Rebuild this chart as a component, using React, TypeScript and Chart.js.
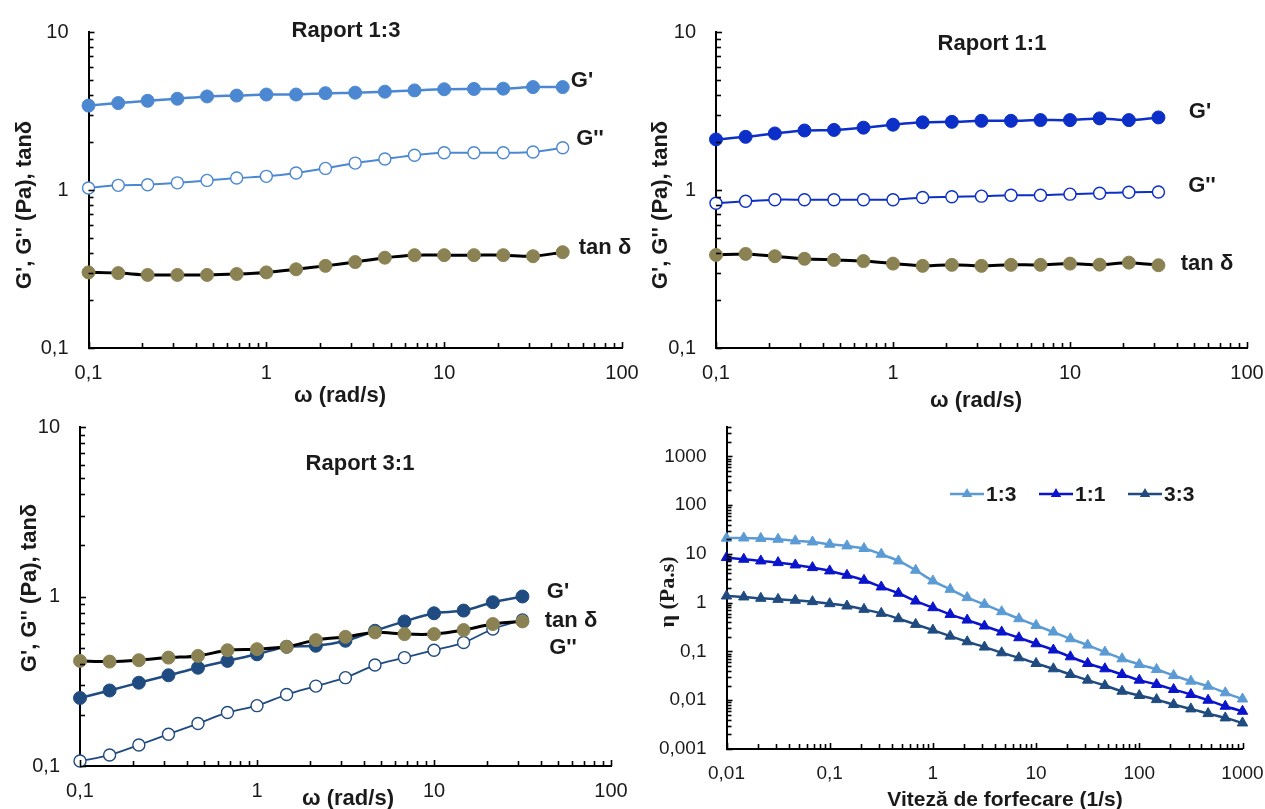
import React, { useEffect, useRef } from "react";
import { Chart, registerables } from "chart.js";

Chart.register(...registerables);

// ---------- data ----------
const omega17 = [0.1, 0.147, 0.215, 0.316, 0.464, 0.681, 1, 1.47, 2.15, 3.16, 4.64, 6.81, 10, 14.7, 21.5, 31.6, 46.4];
const omega16 = [0.1, 0.147, 0.215, 0.316, 0.464, 0.681, 1, 1.47, 2.15, 3.16, 4.64, 6.81, 10, 14.7, 21.5, 31.6];

// Raport 1:3
const gPrime13 = [3.42, 3.55, 3.67, 3.78, 3.91, 3.96, 4.02, 4.02, 4.1, 4.13, 4.19, 4.27, 4.34, 4.36, 4.38, 4.48, 4.48];
const gDouble13 = [1.03, 1.07, 1.08, 1.11, 1.15, 1.19, 1.22, 1.28, 1.37, 1.48, 1.57, 1.66, 1.72, 1.72, 1.72, 1.74, 1.85];
const tanDelta13 = [0.301, 0.298, 0.29, 0.29, 0.29, 0.294, 0.301, 0.315, 0.331, 0.35, 0.373, 0.387, 0.387, 0.387, 0.387, 0.381, 0.404];

// Raport 1:1
const gPrime11 = [2.09, 2.17, 2.28, 2.38, 2.4, 2.48, 2.59, 2.68, 2.7, 2.74, 2.74, 2.77, 2.77, 2.84, 2.77, 2.88];
const gDouble11 = [0.824, 0.848, 0.868, 0.868, 0.868, 0.868, 0.868, 0.897, 0.906, 0.914, 0.927, 0.927, 0.941, 0.954, 0.968, 0.972];
const tanDelta11 = [0.388, 0.394, 0.381, 0.367, 0.361, 0.355, 0.342, 0.331, 0.336, 0.331, 0.336, 0.336, 0.342, 0.337, 0.347, 0.334];

// Raport 3:1
const gPrime31 = [0.252, 0.279, 0.31, 0.343, 0.38, 0.417, 0.456, 0.505, 0.512, 0.548, 0.628, 0.713, 0.796, 0.826, 0.925, 1.0];
const gDouble31 = [0.107, 0.116, 0.133, 0.154, 0.178, 0.207, 0.227, 0.264, 0.296, 0.332, 0.394, 0.436, 0.482, 0.535, 0.643, 0.727];
const tanDelta31 = [0.417, 0.413, 0.421, 0.436, 0.446, 0.482, 0.489, 0.505, 0.553, 0.578, 0.614, 0.6, 0.6, 0.634, 0.688, 0.713];

// Viscosity vs shear rate
const shearRate = [0.01, 0.0147, 0.0215, 0.0316, 0.0464, 0.0681, 0.1, 0.147, 0.215, 0.316, 0.464, 0.681, 1, 1.47, 2.15, 3.16, 4.64, 6.81, 10, 14.7, 21.5, 31.6, 46.4, 68.1, 100, 147, 215, 316, 464, 681, 1000];
const eta13 = [21.0, 21.2, 20.8, 20.0, 18.5, 17.6, 15.8, 14.6, 12.9, 9.84, 7.18, 4.62, 2.79, 1.88, 1.27, 0.924, 0.653, 0.469, 0.342, 0.25, 0.182, 0.135, 0.0969, 0.0707, 0.0541, 0.0427, 0.0321, 0.0246, 0.0194, 0.0142, 0.0106];
const eta11 = [8.41, 7.77, 7.18, 6.63, 5.94, 5.24, 4.48, 3.65, 2.88, 2.1, 1.56, 1.08, 0.789, 0.575, 0.44, 0.332, 0.25, 0.191, 0.144, 0.107, 0.0777, 0.0567, 0.0441, 0.0337, 0.0258, 0.021, 0.0166, 0.0131, 0.01, 0.00753, 0.00594];
const eta33 = [1.37, 1.31, 1.23, 1.17, 1.12, 1.05, 0.954, 0.855, 0.73, 0.604, 0.469, 0.359, 0.274, 0.206, 0.158, 0.123, 0.0939, 0.0741, 0.0567, 0.0441, 0.0337, 0.0258, 0.02, 0.0153, 0.0125, 0.0103, 0.00815, 0.00664, 0.00532, 0.00434, 0.00342];
const etaSeriesNames = ["1:3", "1:1", "3:3"];

// tick labels
const omegaTicks = [0.1, 1, 10, 100];
const omegaTickLabels = ["0,1", "1", "10", "100"];
const modulusTicks = [0.1, 1, 10];
const modulusTickLabels = ["0,1", "1", "10"];
const shearTicks = [0.01, 0.1, 1, 10, 100, 1000];
const shearTickLabels = ["0,01", "0,1", "1", "10", "100", "1000"];
const etaTicks = [0.001, 0.01, 0.1, 1, 10, 100, 1000];
const etaTickLabels = ["0,001", "0,01", "0,1", "1", "10", "100", "1000"];

// ---------- style ----------
const SANS = "'Liberation Sans', Arial, sans-serif";
const SERIF = "'Liberation Serif', 'Times New Roman', serif";
const TEXT = "#1a1a1a";
const LIGHT_BLUE = "#4C88D2";
const ROYAL = "#0C2FC8";
const NAVY = "#1F4B80";
const OLIVE = "#8B8253";
const CW = 1320;
const CH = 809;
const Y_AXIS_W = 100;
const X_AXIS_H = 40;

const pairs = (xs: number[], ys: number[]) => xs.map((x, i) => ({ x, y: ys[i] }));

const minorTicksPlugin = {
  id: "minorTicks",
  afterDatasetsDraw(chart: any) {
    const ctx = chart.ctx;
    const { left, bottom } = chart.chartArea;
    ctx.save();
    ctx.strokeStyle = "#000";
    ctx.lineWidth = 1.6;
    for (const id of ["x", "y"]) {
      const s = chart.scales[id];
      const lo = Math.floor(Math.log10(s.min));
      const hi = Math.ceil(Math.log10(s.max));
      for (let e = lo; e <= hi; e++) {
        for (let m = 1; m <= 9; m++) {
          const v = m * Math.pow(10, e);
          if (v < s.min * 0.999 || v > s.max * 1.001) continue;
          const p = Math.round(s.getPixelForValue(v)) + 0.5;
          const len = m === 1 ? 6 : 5;
          ctx.beginPath();
          if (id === "x") {
            ctx.moveTo(p, bottom);
            ctx.lineTo(p, bottom - len);
          } else {
            ctx.moveTo(left, p);
            ctx.lineTo(left + len, p);
          }
          ctx.stroke();
        }
      }
    }
    ctx.restore();
  },
};

const makeLegendPlugin = (items: { x: number; y: number }[], names: string[]) => ({
  id: "lineLegend",
  afterDraw(chart: any) {
    const ctx = chart.ctx;
    ctx.save();
    items.forEach((it, i) => {
      const ds = chart.data.datasets[i];
      const c = ds.borderColor;
      ctx.strokeStyle = c;
      ctx.lineWidth = 2.5;
      ctx.beginPath();
      ctx.moveTo(it.x, it.y);
      ctx.lineTo(it.x + 34, it.y);
      ctx.stroke();
      const cx = it.x + 17;
      const r = 6;
      ctx.fillStyle = c;
      ctx.beginPath();
      ctx.moveTo(cx, it.y - r);
      ctx.lineTo(cx + 0.866 * r, it.y + 0.5 * r);
      ctx.lineTo(cx - 0.866 * r, it.y + 0.5 * r);
      ctx.closePath();
      ctx.fill();
      ctx.fillStyle = TEXT;
      ctx.font = `bold 21px ${SANS}`;
      ctx.textBaseline = "middle";
      ctx.textAlign = "left";
      ctx.fillText(names[i], it.x + 36, it.y + 1);
    });
    ctx.restore();
  },
});

type Area = { left: number; right: number; top: number; bottom: number };

type PanelCfg = {
  area: Area;
  xMin: number;
  xMax: number;
  yMin: number;
  yMax: number;
  xTicks: number[];
  xLabels: string[];
  yTicks: number[];
  yLabels: string[];
  tickSize: number;
  datasets: any[];
  legend?: { x: number; y: number }[];
};

const circleSeries = (xs: number[], ys: number[], color: string, hollow: boolean, lw: number) => ({
  data: pairs(xs, ys),
  borderColor: color,
  borderWidth: lw,
  pointRadius: hollow ? 6 : 6.5,
  pointBackgroundColor: hollow ? "#ffffff" : color,
  pointBorderColor: color,
  pointBorderWidth: hollow ? 1.4 : 1,
  tension: 0.3,
  clip: false,
});

const tanSeries = (xs: number[], ys: number[]) => ({
  data: pairs(xs, ys),
  borderColor: "#000000",
  borderWidth: 3,
  pointRadius: 6.5,
  pointBackgroundColor: OLIVE,
  pointBorderColor: OLIVE,
  pointBorderWidth: 1,
  tension: 0.3,
  clip: false,
});

const triSeries = (xs: number[], ys: number[], color: string) => ({
  data: pairs(xs, ys),
  borderColor: color,
  borderWidth: 2.5,
  pointStyle: "triangle",
  pointRadius: 6,
  pointBackgroundColor: color,
  pointBorderColor: color,
  pointBorderWidth: 1,
  tension: 0.3,
  clip: false,
});

const panels: PanelCfg[] = [
  {
    area: { left: 88.5, right: 622, top: 26, bottom: 348 },
    xMin: 0.1, xMax: 100, yMin: 0.1, yMax: 10,
    xTicks: omegaTicks, xLabels: omegaTickLabels, yTicks: modulusTicks, yLabels: modulusTickLabels,
    tickSize: 20,
    datasets: [
      circleSeries(omega17, gPrime13, LIGHT_BLUE, false, 2.5),
      circleSeries(omega17, gDouble13, LIGHT_BLUE, true, 2),
      tanSeries(omega17, tanDelta13),
    ],
  },
  {
    area: { left: 716, right: 1247, top: 23, bottom: 348 },
    xMin: 0.1, xMax: 100, yMin: 0.1, yMax: 10,
    xTicks: omegaTicks, xLabels: omegaTickLabels, yTicks: modulusTicks, yLabels: modulusTickLabels,
    tickSize: 20,
    datasets: [
      circleSeries(omega16, gPrime11, ROYAL, false, 2.5),
      circleSeries(omega16, gDouble11, ROYAL, true, 2),
      tanSeries(omega16, tanDelta11),
    ],
  },
  {
    area: { left: 80, right: 611, top: 427, bottom: 766 },
    xMin: 0.1, xMax: 100, yMin: 0.1, yMax: 10,
    xTicks: omegaTicks, xLabels: omegaTickLabels, yTicks: modulusTicks, yLabels: modulusTickLabels,
    tickSize: 20,
    datasets: [
      tanSeries(omega16, tanDelta31),
      circleSeries(omega16, gPrime31, NAVY, false, 2.5),
      circleSeries(omega16, gDouble31, NAVY, true, 1.8),
    ],
  },
  {
    area: { left: 726.5, right: 1242.5, top: 427, bottom: 749 },
    xMin: 0.01, xMax: 1000, yMin: 0.001, yMax: 4000,
    xTicks: shearTicks, xLabels: shearTickLabels, yTicks: etaTicks, yLabels: etaTickLabels,
    tickSize: 19,
    datasets: [
      triSeries(shearRate, eta13, "#5B9BD5"),
      triSeries(shearRate, eta11, "#0A14CC"),
      triSeries(shearRate, eta33, NAVY),
    ],
    legend: [
      { x: 950, y: 494 },
      { x: 1039, y: 494 },
      { x: 1128, y: 494 },
    ],
  },
];

function PanelChart({ cfg }: { cfg: PanelCfg }) {
  const ref = useRef<HTMLCanvasElement | null>(null);
  useEffect(() => {
    if (!ref.current) return;
    const a = cfg.area;
    const tickFont = { family: SANS, size: cfg.tickSize };
    const plugins: any[] = [minorTicksPlugin];
    if (cfg.legend) plugins.push(makeLegendPlugin(cfg.legend, etaSeriesNames));
    const chart = new Chart(ref.current, {
      type: "line",
      data: { datasets: cfg.datasets },
      plugins,
      options: {
        animation: false,
        responsive: false,
        maintainAspectRatio: false,
        events: [],
        layout: {
          padding: {
            left: a.left - Y_AXIS_W,
            right: CW - a.right,
            top: a.top,
            bottom: CH - a.bottom - X_AXIS_H,
          },
        },
        plugins: {
          legend: { display: false },
          tooltip: { enabled: false },
          title: { display: false },
        },
        scales: {
          x: {
            type: "logarithmic",
            min: cfg.xMin,
            max: cfg.xMax,
            grid: { display: false, drawTicks: false },
            border: { display: true, color: "#000", width: 2 },
            afterBuildTicks: (s: any) => {
              s.ticks = cfg.xTicks.map((v) => ({ value: v }));
            },
            afterFit: (s: any) => {
              s.height = X_AXIS_H;
            },
            ticks: {
              autoSkip: false,
              maxRotation: 0,
              padding: 13,
              color: TEXT,
              font: tickFont,
              callback: (_v: any, i: number) => cfg.xLabels[i],
            },
          },
          y: {
            type: "logarithmic",
            min: cfg.yMin,
            max: cfg.yMax,
            grid: { display: false, drawTicks: false },
            border: { display: true, color: "#000", width: 2 },
            afterBuildTicks: (s: any) => {
              s.ticks = cfg.yTicks.map((v) => ({ value: v }));
            },
            afterFit: (s: any) => {
              s.width = Y_AXIS_W;
            },
            ticks: {
              autoSkip: false,
              padding: 20,
              color: TEXT,
              font: tickFont,
              callback: (_v: any, i: number) => cfg.yLabels[i],
            },
          },
        },
      } as any,
    });
    return () => chart.destroy();
  }, [cfg]);
  return (
    <canvas
      ref={ref}
      width={CW}
      height={CH}
      style={{ position: "absolute", left: 0, top: 0, width: CW, height: CH }}
    />
  );
}

type Label = { text: string; x: number; y: number; size: number; rotate?: boolean; serif?: boolean };

const labels: Label[] = [
  { text: "Raport 1:3", x: 346, y: 30, size: 22 },
  { text: "G'", x: 582, y: 80, size: 22 },
  { text: "G''", x: 590, y: 138, size: 22 },
  { text: "tan δ", x: 605, y: 247, size: 22 },
  { text: "ω (rad/s)", x: 340, y: 395, size: 22 },
  { text: "G', G'' (Pa), tanδ", x: 24, y: 205, size: 22, rotate: true },

  { text: "Raport 1:1", x: 992, y: 43, size: 22 },
  { text: "G'", x: 1200, y: 111, size: 22 },
  { text: "G''", x: 1202, y: 185, size: 22 },
  { text: "tan δ", x: 1207, y: 263, size: 22 },
  { text: "ω (rad/s)", x: 976, y: 400, size: 22 },
  { text: "G', G'' (Pa), tanδ", x: 660, y: 205, size: 22, rotate: true },

  { text: "Raport 3:1", x: 360, y: 463, size: 22 },
  { text: "G'", x: 558, y: 591, size: 22 },
  { text: "tan δ", x: 571, y: 620, size: 22 },
  { text: "G''", x: 563, y: 647, size: 22 },
  { text: "ω (rad/s)", x: 348, y: 798, size: 22 },
  { text: "G', G'' (Pa), tanδ", x: 29, y: 588, size: 22, rotate: true },

  { text: "Viteză de forfecare (1/s)", x: 1005, y: 798, size: 21 },
  { text: "η (Pa.s)", x: 667, y: 592, size: 22, rotate: true, serif: true },
];

export default function App() {
  return (
    <div
      style={{
        position: "absolute",
        left: 0,
        top: 0,
        width: 1265,
        height: 809,
        overflow: "hidden",
        background: "#ffffff",
      }}
    >
      {panels.map((p, i) => (
        <PanelChart key={i} cfg={p} />
      ))}
      {labels.map((l, i) => (
        <div
          key={"l" + i}
          style={{
            position: "absolute",
            left: l.x,
            top: l.y,
            transform: `translate(-50%, -50%)${l.rotate ? " rotate(-90deg)" : ""}`,
            whiteSpace: "nowrap",
            fontFamily: l.serif ? SERIF : SANS,
            fontWeight: "bold",
            fontSize: l.size,
            lineHeight: 1,
            color: TEXT,
          }}
        >
          {l.text}
        </div>
      ))}
    </div>
  );
}
